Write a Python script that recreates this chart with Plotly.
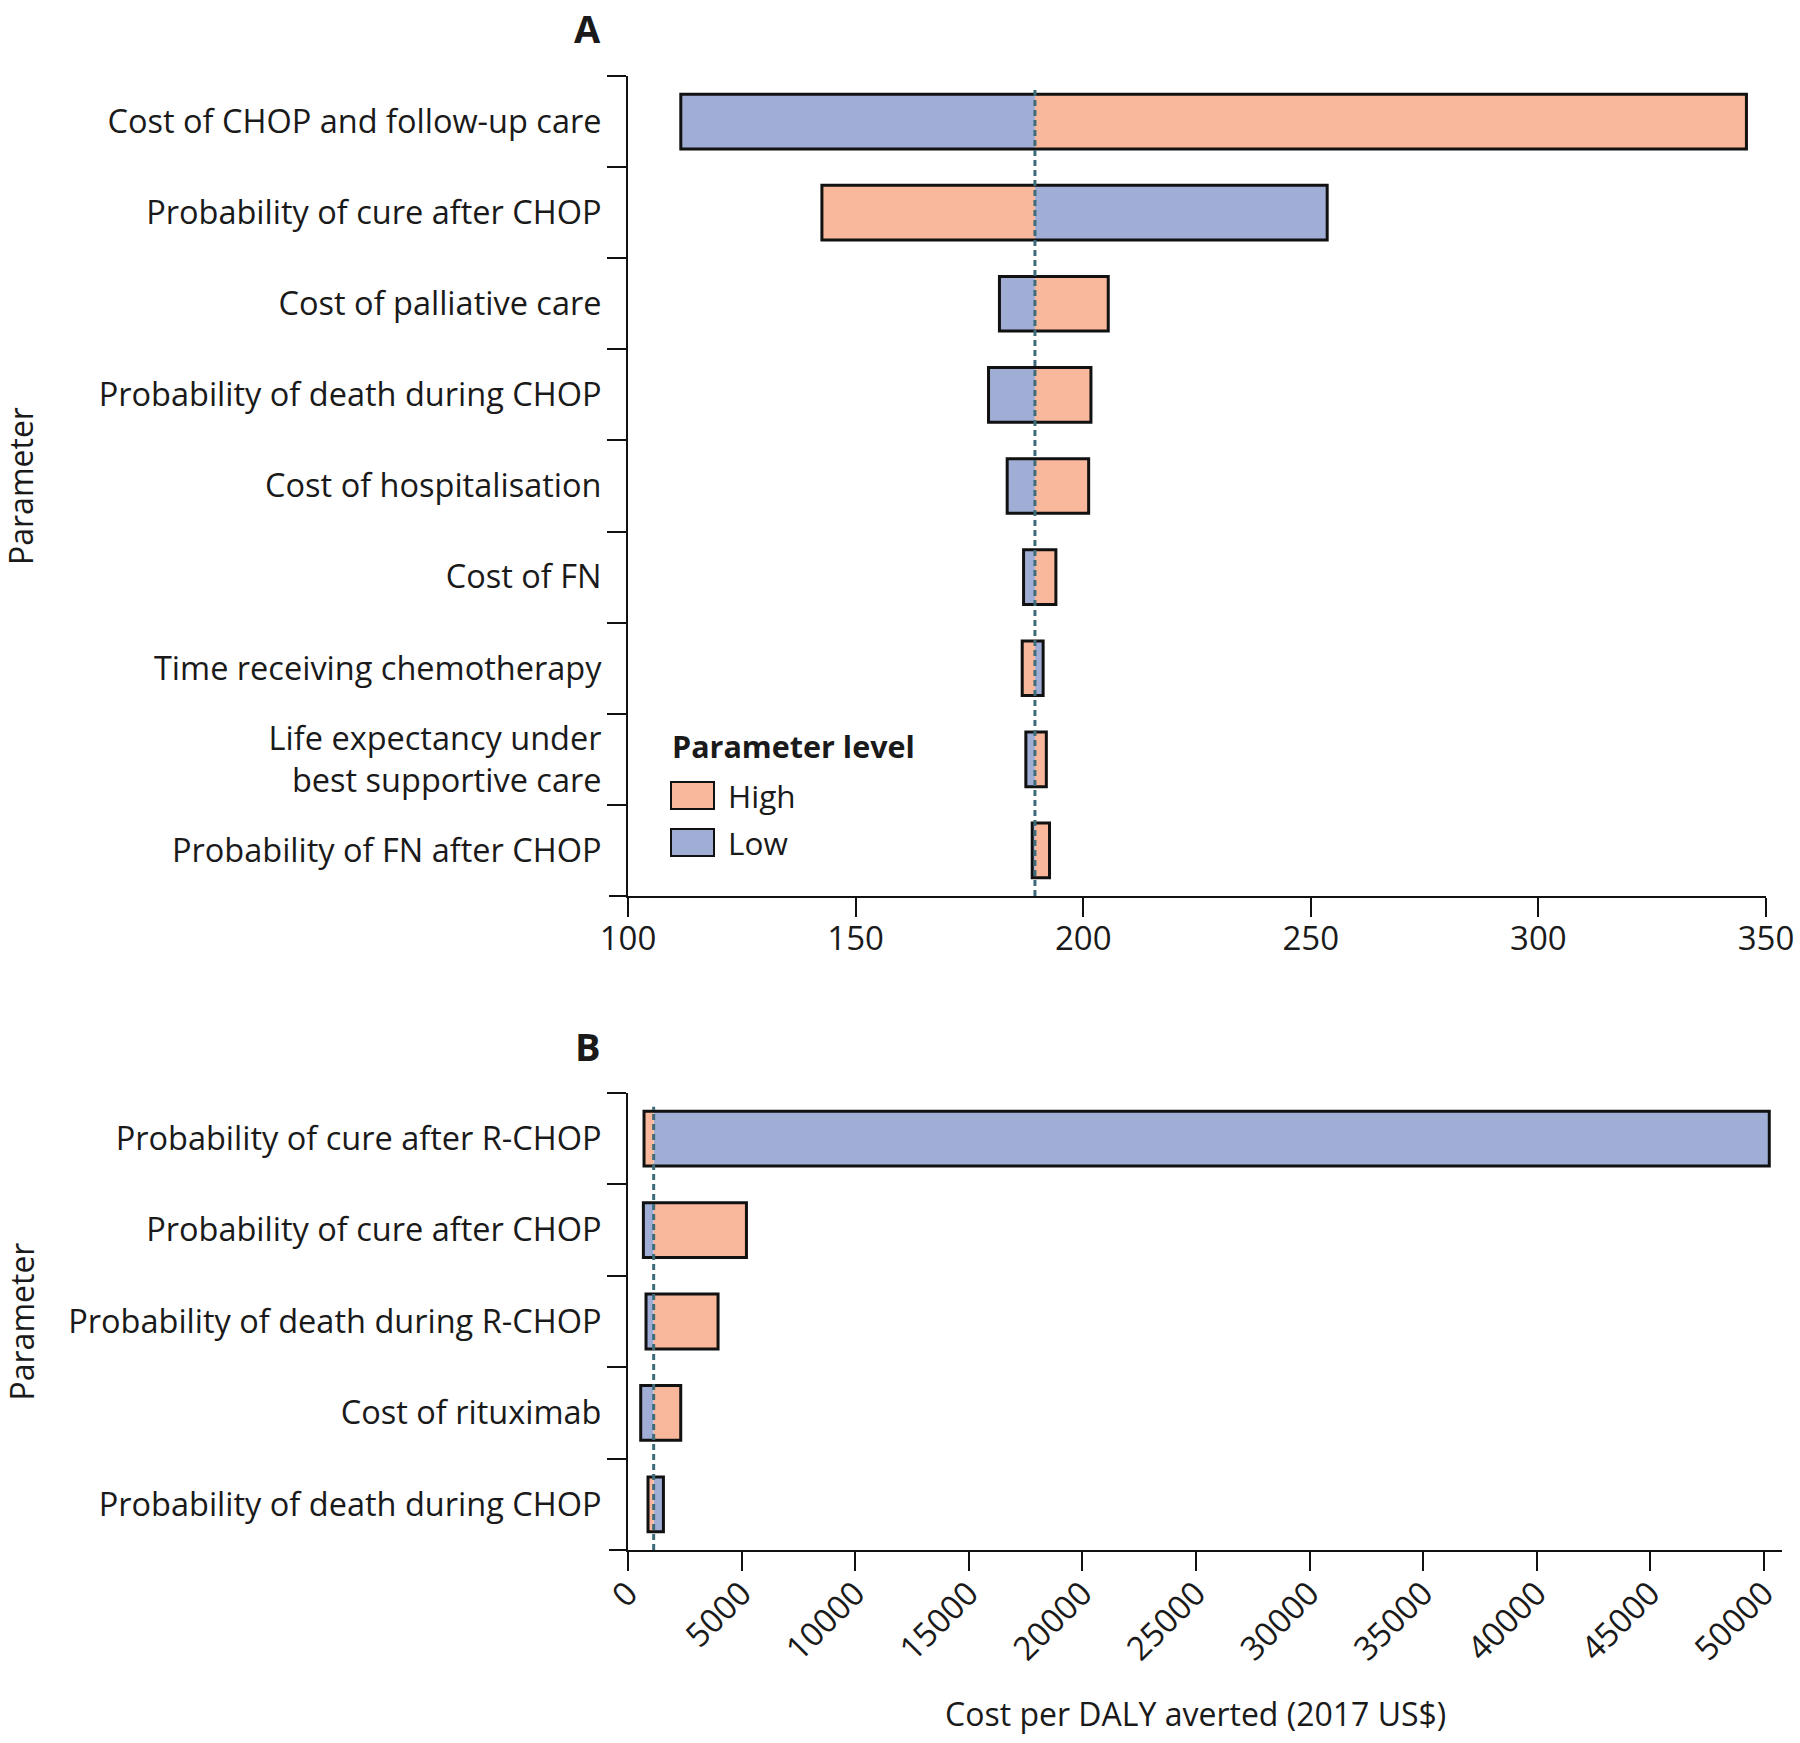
import plotly.graph_objects as go

# ---------------- data ----------------
params_a = ["Cost of CHOP and follow-up care", "Probability of cure after CHOP",
            "Cost of palliative care", "Probability of death during CHOP",
            "Cost of hospitalisation", "Cost of FN", "Time receiving chemotherapy",
            "Life expectancy under<br>best supportive care", "Probability of FN after CHOP"]
low_a = [111.6, 253.6, 181.6, 179.2, 183.3, 186.9, 191.2, 187.4, 188.8]
high_a = [345.7, 142.6, 205.5, 201.7, 201.2, 194.0, 186.6, 191.9, 192.6]
base_a = 189.4

params_b = ["Probability of cure after R-CHOP", "Probability of cure after CHOP",
            "Probability of death during R-CHOP", "Cost of rituximab",
            "Probability of death during CHOP"]
low_b = [50240, 677, 793, 559, 1559]
high_b = [705, 5214, 3964, 2321, 881]
base_b = 1130

ticks_a = [100, 150, 200, 250, 300, 350]
ticks_b = [0, 5000, 10000, 15000, 20000, 25000, 30000, 35000, 40000, 45000, 50000]

# ---------------- style ----------------
W, H = 1800, 1743
BLUE = "#a0aed6"
PINK = "#f9b89b"
DASH = "#3e6b78"
FONT = "Open Sans"
FS = 32.5
TFS = 33
TXT = "#1a1a1a"


def px(x):
    return x / W


def py(y):
    return 1 - y / H


fig = go.Figure()


def add_panel(params, low, high, base, xa, ya):
    n = len(params)
    fig.add_trace(go.Bar(y=params, x=[v - base for v in low], base=[base] * n,
                         orientation="h", marker=dict(color=BLUE, line=dict(width=0)),
                         width=0.6, xaxis=xa, yaxis=ya, showlegend=False, name="Low"))
    fig.add_trace(go.Bar(y=params, x=[v - base for v in high], base=[base] * n,
                         orientation="h", marker=dict(color=PINK, line=dict(width=0)),
                         width=0.6, xaxis=xa, yaxis=ya, showlegend=False, name="High"))
    fig.add_trace(go.Bar(y=params, x=[abs(h - l) for l, h in zip(low, high)],
                         base=[min(l, h) for l, h in zip(low, high)],
                         orientation="h",
                         marker=dict(color="rgba(0,0,0,0)", line=dict(width=3, color="#111")),
                         width=0.6, xaxis=xa, yaxis=ya, showlegend=False, hoverinfo="skip"))


add_panel(params_a, low_a, high_a, base_a, "x", "y")
add_panel(params_b, low_b, high_b, base_b, "x2", "y2")

axis_common = dict(showline=True, linewidth=2, linecolor="#111", ticks="outside",
                   ticklen=19, tickwidth=2, tickcolor="#111", showgrid=False,
                   zeroline=False, automargin=False)

A_top, A_bot = 76, 896
B_top, B_bot = 1093, 1550
X0 = 628

fig.update_layout(
    width=W, height=H, margin=dict(l=0, r=0, t=0, b=0, autoexpand=False),
    plot_bgcolor="white", paper_bgcolor="white", barmode="overlay",
    font=dict(family=FONT, size=FS, color=TXT),
    xaxis=dict(domain=[px(X0), px(1766)], range=[100, 350], tickvals=ticks_a,
               ticktext=[str(t) for t in ticks_a], anchor="y", ticklabelstandoff=-7,
               tickfont=dict(family=FONT, size=TFS, color=TXT), **axis_common),
    yaxis=dict(domain=[py(A_bot), py(A_top)], type="category", categoryorder="array",
               categoryarray=params_a, range=[len(params_a) - 0.5, -0.5],
               tickson="boundaries", anchor="x", ticklabelstandoff=18,
               tickfont=dict(family=FONT, size=FS, color=TXT), **axis_common),
    xaxis2=dict(domain=[px(X0), px(1782)], range=[0, 50800], tickvals=ticks_b,
                ticktext=[str(t) for t in ticks_b], tickangle=-45, anchor="y2",
                ticklabelstandoff=-10,
                tickfont=dict(family=FONT, size=TFS, color=TXT), **axis_common),
    yaxis2=dict(domain=[py(B_bot), py(B_top)], type="category", categoryorder="array",
                categoryarray=params_b, range=[len(params_b) - 0.5, -0.5],
                tickson="boundaries", anchor="x2", ticklabelstandoff=18,
                tickfont=dict(family=FONT, size=FS, color=TXT), **axis_common),
)

# baseline dashed lines
fig.add_shape(type="line", xref="x", yref="y domain", x0=base_a, x1=base_a, y0=0, y1=0.985,
              line=dict(color=DASH, width=3, dash="6px,4px"))
fig.add_shape(type="line", xref="x2", yref="y2 domain", x0=base_b, x1=base_b, y0=0, y1=0.97,
              line=dict(color=DASH, width=3, dash="6px,4px"))

# x-axis line extension to the left of the y axis
for yb in (A_bot, B_bot):
    fig.add_shape(type="line", xref="paper", yref="paper", x0=px(609), x1=px(X0),
                  y0=py(yb), y1=py(yb), line=dict(color="#111", width=2))


def note(text, x, y, size, **kw):
    fig.add_annotation(text=text, x=px(x), y=py(y), xref="paper", yref="paper",
                       showarrow=False, xanchor=kw.pop("xanchor", "center"),
                       yanchor="middle", font=dict(family=FONT, size=size, color=TXT), **kw)


# panel letters
note("<b>A</b>", 587, 28, 38)
note("<b>B</b>", 588, 1046, 38)

# y-axis titles
note("Parameter", 21, (A_top + A_bot) / 2, 32, textangle=-90)
note("Parameter", 21, (B_top + B_bot) / 2, 32, textangle=-90)

# x-axis title
note("Cost per DALY averted (2017 US$)", 1195, 1713, 32)

# legend (drawn)
note("<b>Parameter level</b>", 670, 746, 30.5, xanchor="left")
for label, col, y0, y1 in (("High", PINK, 782, 809), ("Low", BLUE, 829, 856)):
    fig.add_shape(type="rect", xref="paper", yref="paper", x0=px(671), x1=px(714),
                  y0=py(y1), y1=py(y0), fillcolor=col, line=dict(color="#111", width=2))
    note(label, 726, (y0 + y1) / 2, 31.5, xanchor="left")

fig.write_html("out.html", config={"displayModeBar": False},
               post_script="document.body.style.margin='0';document.body.style.overflow='hidden';")
